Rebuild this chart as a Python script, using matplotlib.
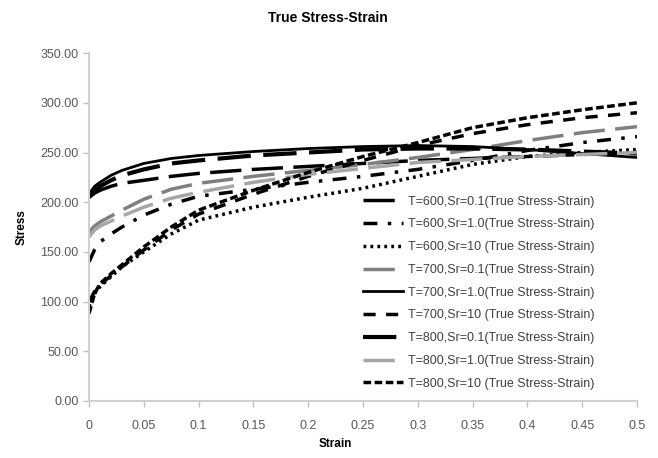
import matplotlib.pyplot as plt

plt.rcParams['font.family'] = ['Liberation Sans', 'DejaVu Sans']

# Strain points (x) shared by every curve
strain = [0, 0.005, 0.01, 0.02, 0.03, 0.05, 0.075, 0.1, 0.15, 0.2, 0.25, 0.3, 0.35, 0.4, 0.45, 0.5]

# True stress values
t600_sr01 = [205, 209, 212, 216, 219, 222, 226, 229, 233, 236, 239, 242, 244, 246, 248, 250]
t600_sr1 = [140, 152, 160, 168, 175, 187, 198, 206, 213, 220, 226, 233, 242, 252, 260, 266]
t600_sr10 = [95, 108, 115, 125, 135, 150, 168, 182, 195, 205, 214, 226, 238, 246, 250, 253]
t700_sr01 = [170, 176, 180, 186, 192, 203, 213, 219, 226, 232, 238, 245, 253, 262, 270, 276]
t700_sr1 = [208, 216, 220, 227, 232, 239, 244, 247, 251, 254, 256, 257, 256, 253, 249, 245]
t700_sr10 = [100, 110, 117, 126, 135, 152, 172, 188, 208, 226, 242, 257, 269, 278, 285, 290]
t800_sr01 = [205, 212, 216, 222, 227, 233, 239, 242, 247, 250, 253, 254, 254, 253, 251, 249]
t800_sr1 = [165, 172, 176, 181, 186, 195, 204, 210, 220, 228, 234, 240, 243, 246, 248, 250]
t800_sr10 = [88, 108, 118, 128, 137, 155, 175, 192, 212, 230, 246, 260, 275, 285, 293, 300]

labels = ['T=600,Sr=0.1(True Stress-Strain)', 'T=600,Sr=1.0(True Stress-Strain)',
          'T=600,Sr=10 (True Stress-Strain)', 'T=700,Sr=0.1(True Stress-Strain)',
          'T=700,Sr=1.0(True Stress-Strain)', 'T=700,Sr=10 (True Stress-Strain)',
          'T=800,Sr=0.1(True Stress-Strain)', 'T=800,Sr=1.0(True Stress-Strain)',
          'T=800,Sr=10 (True Stress-Strain)']
series = [t600_sr01, t600_sr1, t600_sr10, t700_sr01, t700_sr1, t700_sr10,
          t800_sr01, t800_sr1, t800_sr10]

# colour, linewidth, dash pattern (None = solid)
styles = [
    ('black', 2.5, (0, (9, 3))),
    ('black', 2.5, (0, (4, 3, 1, 3))),
    ('black', 2.5, (0, (0.8, 1.2))),
    ('#7f7f7f', 2.5, (0, (9, 3))),
    ('black', 2.0, None),
    ('black', 2.5, (0, (3.5, 3))),
    ('black', 3.0, (0, (8, 3))),
    ('#a6a6a6', 2.5, (0, (9, 3))),
    ('black', 2.5, (0, (2.2, 1))),
]

fig = plt.figure(figsize=(6.58, 4.58), dpi=100)
ax = fig.add_axes([0.1353, 0.1245, 0.8327, 0.7595])

for y, lab, (c, lw, ls) in zip(series, labels, styles):
    if ls is None:
        ax.plot(strain, y, color=c, lw=lw, label=lab)
    else:
        ax.plot(strain, y, color=c, lw=lw, linestyle=ls, label=lab)

ax.set_xlim(0, 0.5)
ax.set_ylim(0, 350)
ax.set_xticks([0, 0.05, 0.1, 0.15, 0.2, 0.25, 0.3, 0.35, 0.4, 0.45, 0.5])
ax.set_xticklabels(['0', '0.05', '0.1', '0.15', '0.2', '0.25', '0.3', '0.35', '0.4', '0.45', '0.5'])
ax.set_yticks(range(0, 351, 50))
ax.set_yticklabels(['%.2f' % v for v in range(0, 351, 50)])
ax.tick_params(axis='both', labelsize=9, colors='#bfbfbf', labelcolor='#595959', length=4, width=1)
ax.tick_params(axis='x', pad=10)

for s in ['top', 'right']:
    ax.spines[s].set_visible(False)
for s in ['left', 'bottom']:
    ax.spines[s].set_color('#d0d0d0')
    ax.spines[s].set_linewidth(1.5)

fig.text(0.499, 0.96, 'True Stress-Strain', ha='center', va='center', fontsize=10, fontweight='bold')
fig.text(0.51, 0.017, 'Strain', ha='center', va='bottom', fontsize=8.5, fontweight='bold')
fig.text(0.033, 0.505, 'Stress', ha='center', va='center', rotation=90, fontsize=8.5, fontweight='bold')

leg = ax.legend(loc='center left', bbox_to_anchor=(0.552, 0.361), bbox_transform=fig.transFigure,
                frameon=False, fontsize=9, handlelength=3.2, handletextpad=0.4,
                labelspacing=0.86, borderpad=0, borderaxespad=0)
for t in leg.get_texts():
    t.set_color('#404040')

fig.savefig('out.png', dpi=100)
